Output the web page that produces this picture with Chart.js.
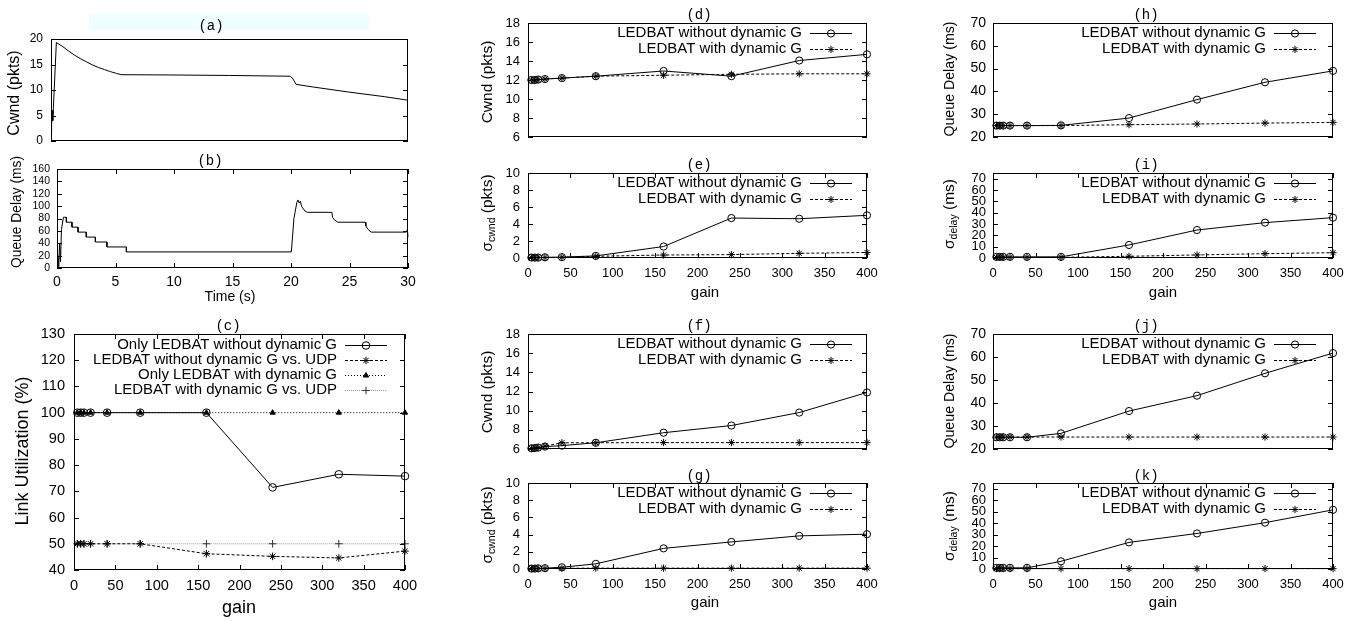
<!DOCTYPE html>
<html>
<head>
<meta charset="utf-8">
<script src="https://cdn.jsdelivr.net/npm/chart.js@4"></script>
<style>
html, body { margin: 0; padding: 0; background: #fff; }
#wrap { position: relative; width: 1359px; height: 621px; overflow: hidden; background: #fff; }
#wrap canvas { position: absolute; left: 0; top: 0; }
#band { position: absolute; left: 89px; top: 14px; width: 280px; height: 16px; background: #effefe; }
</style>
</head>
<body>
<div id="wrap"><div id="band"></div></div>
<script>
// ---- data ----
const gains = [4, 8, 12, 20, 40, 80, 160, 240, 320, 400];

// (a) cwnd over time
const aTime = [0, 0.05, 0.1, 0.15, 0.2, 0.45, 1, 1.5, 2, 2.5, 3, 3.5, 4, 4.5, 5, 5.5, 5.9, 10, 15, 20.1, 20.3, 20.6, 22, 25, 28, 30];
const aCwnd = [1.5, 3, 6, 4, 6.5, 19.3, 18.5, 17.6, 16.8, 16.1, 15.5, 14.9, 14.4, 14.0, 13.6, 13.25, 13.0, 12.95, 12.85, 12.7, 12.3, 11.1, 10.6, 9.6, 8.7, 8.0];

// (b) queue delay over time
const bTime = [0, 0.08, 0.15, 0.22, 0.3, 0.38, 0.55, 0.62, 0.8, 0.8, 1.28, 1.28, 1.8, 1.8, 2.5, 2.5, 3.28, 3.28, 4.27, 4.27, 5.93, 5.93, 20.03, 20.25, 20.5, 20.6, 20.7, 20.8, 20.9, 21.0, 21.2, 21.4, 23.5, 23.55, 23.7, 24.0, 26.35, 26.4, 26.6, 26.85, 29.85, 29.95, 30];
const bDelay = [0, 20, 2, 40, 10, 62, 82, 82, 82, 74, 74, 66, 66, 58, 58, 50, 50, 42, 42, 34, 34, 26, 26, 80, 106, 110, 105, 108, 100, 97, 92, 90, 90, 82, 78, 74, 74, 68, 62, 58, 58, 62, 50];

// (c) link utilization
const utilNoDyn = [100, 100, 100, 100, 100, 100, 100, 71.5, 76.5, 75.8];
const utilNoDynUdp = [50, 50, 50, 50, 50, 50, 46.2, 45.2, 44.6, 47.2];
const utilDyn = [100, 100, 100, 100, 100, 100, 100, 100, 100, 100];
const utilDynUdp = [50, 50, 50, 50, 50, 50, 50, 50, 50, 50];

// (d)-(k)
const cwndNoDyn1 = [12.0, 12.0, 12.05, 12.1, 12.2, 12.4, 12.95, 12.4, 14.05, 14.7];
const cwndDyn1 = [12.0, 12.0, 12.05, 12.1, 12.2, 12.4, 12.5, 12.6, 12.65, 12.65];
const sdCwndNoDyn1 = [0.05, 0.05, 0.05, 0.08, 0.1, 0.25, 1.35, 4.7, 4.62, 5.02];
const sdCwndDyn1 = [0.05, 0.05, 0.05, 0.06, 0.08, 0.2, 0.35, 0.4, 0.55, 0.65];
const cwndNoDyn2 = [6.07, 6.1, 6.15, 6.25, 6.35, 6.65, 7.7, 8.45, 9.8, 11.9];
const cwndDyn2 = [6.07, 6.1, 6.15, 6.3, 6.65, 6.65, 6.67, 6.67, 6.67, 6.67];
const sdCwndNoDyn2 = [0.05, 0.05, 0.08, 0.1, 0.2, 0.6, 2.4, 3.15, 3.85, 4.05];
const sdCwndDyn2 = [0.05, 0.05, 0.05, 0.05, 0.08, 0.1, 0.1, 0.1, 0.1, 0.1];
const delayNoDyn1 = [25, 25, 25, 25, 25, 25.1, 28.3, 36.4, 44, 49];
const delayDyn1 = [25, 25, 25, 25, 25, 25, 25.4, 25.7, 26.1, 26.4];
const sdDelayNoDyn1 = [1, 1, 1, 1, 1, 1, 11.5, 24.7, 31.2, 35.6];
const sdDelayDyn1 = [0.5, 0.5, 0.5, 0.5, 0.5, 0.6, 1.5, 2.7, 3.8, 4.7];
const delayNoDyn2 = [25.1, 25.1, 25.1, 25.1, 25.1, 26.8, 36.5, 43.2, 52.9, 61.7];
const delayDyn2 = [25.2, 25.2, 25.2, 25.2, 25.2, 25.2, 25.2, 25.2, 25.2, 25.2];
const sdDelayNoDyn2 = [1, 1, 1, 1, 1, 6.7, 23.2, 31, 40.4, 51.6];
const sdDelayDyn2 = [0.3, 0.3, 0.3, 0.3, 0.3, 0.3, 0.3, 0.3, 0.3, 0.3];

const labNoDyn = 'LEDBAT without dynamic G';
const labDyn = 'LEDBAT with dynamic G';

// ---- helpers ----
const W = 1359, H = 621;
const YW = 40, XH = 26; //room kept for tick labels
const SANS = '"Liberation Sans", Arial, sans-serif';
const MONO = '"Liberation Mono", "Courier New", monospace';
const wrap = document.getElementById('wrap');

function zip(xs, ys) { return xs.map((x, i) => ({ x: x, y: ys[i] })); }

const solidCircle = { color: '#000', dash: [], point: 'circle', r: 3.6, fill: 'rgba(0,0,0,0)' };
const dashStar = { color: '#000', dash: [3, 2], point: 'star', r: 3.6, fill: 'rgba(0,0,0,0)' };

function pair(noDyn, dyn) { //two-series panels
    return [
        Object.assign({ label: labNoDyn, data: zip(gains, noDyn) }, solidCircle),
        Object.assign({ label: labDyn, data: zip(gains, dyn) }, dashStar)
    ];
}

function fixFit(s) { //fixed scale sizes so the plot box comes from padding
    if (s.isHorizontal()) s.height = XH; else s.width = YW;
    s.paddingLeft = 0; s.paddingRight = 0; s.paddingTop = 0; s.paddingBottom = 0;
}

function decor(p) { //gnuplot style frame, inner ticks, titles, labels, key
    return {
        id: 'decor',
        afterDatasetsDraw(chart) {
            const ctx = chart.ctx, a = chart.chartArea, sx = chart.scales.x, sy = chart.scales.y;
            ctx.save();
            ctx.strokeStyle = '#000'; ctx.lineWidth = 1; ctx.setLineDash([]);
            ctx.beginPath();
            if (p.x.marks) sx.ticks.forEach(t => {
                const px = Math.round(sx.getPixelForValue(t.value)) + 0.5;
                ctx.moveTo(px, a.bottom); ctx.lineTo(px, a.bottom - 5);
                ctx.moveTo(px, a.top); ctx.lineTo(px, a.top + 5);
            });
            sy.ticks.forEach(t => {
                const py = Math.round(sy.getPixelForValue(t.value)) + 0.5;
                ctx.moveTo(a.left, py); ctx.lineTo(a.left + 5, py);
                ctx.moveTo(a.right, py); ctx.lineTo(a.right - 5, py);
            });
            ctx.stroke();
            ctx.strokeRect(a.left + 0.5, a.top + 0.5, a.width - 1, a.height - 1);

            ctx.fillStyle = '#000';
            // panel title
            ctx.font = '14px ' + MONO; ctx.textAlign = 'center'; ctx.textBaseline = 'middle';
            ctx.fillText(p.title.text, p.title.x, p.title.y);
            // x label
            if (p.xlabel) {
                ctx.font = p.xlabel.size + 'px ' + SANS;
                ctx.fillText(p.xlabel.text, p.xlabel.x, p.xlabel.y);
            }
            // y label (parts allow a subscript)
            const yl = p.ylabel;
            ctx.save();
            ctx.translate(yl.x, yl.y); ctx.rotate(-Math.PI / 2);
            ctx.textAlign = 'left'; ctx.textBaseline = 'middle';
            let total = 0;
            yl.parts.forEach(pt => { ctx.font = pt[1] + 'px ' + SANS; total += ctx.measureText(pt[0]).width; });
            let cx = -total / 2;
            yl.parts.forEach(pt => {
                ctx.font = pt[1] + 'px ' + SANS;
                ctx.fillText(pt[0], cx, pt[2] || 0);
                cx += ctx.measureText(pt[0]).width;
            });
            ctx.restore();
            // key
            if (p.legend) {
                const L = p.legend;
                p.series.forEach((s, i) => {
                    const y = L.y + i * L.dy;
                    ctx.font = L.size + 'px ' + SANS; ctx.textAlign = 'right'; ctx.textBaseline = 'middle';
                    ctx.fillStyle = '#000';
                    ctx.fillText(s.label, L.x, y);
                    ctx.strokeStyle = s.color; ctx.setLineDash(s.dash);
                    ctx.beginPath(); ctx.moveTo(L.x + 8, Math.round(y) + 0.5); ctx.lineTo(L.x + 8 + L.len, Math.round(y) + 0.5); ctx.stroke();
                    ctx.setLineDash([]);
                    ctx.fillStyle = s.fill; ctx.strokeStyle = s.pcolor || s.color;
                    Chart.helpers.drawPoint(ctx, { pointStyle: s.point, radius: s.r, rotation: 0, borderWidth: 1 }, L.x + 8 + L.len / 2, Math.round(y) + 0.5);
                });
            }
            ctx.restore();
        }
    };
}

function makePanel(p) {
    const cv = document.createElement('canvas');
    cv.width = W; cv.height = H;
    wrap.appendChild(cv);
    return new Chart(cv, {
        type: 'scatter',
        data: {
            datasets: p.series.map(s => ({
                label: s.label,
                data: s.data,
                showLine: true,
                tension: 0,
                borderColor: s.color,
                borderWidth: 1,
                borderDash: s.dash,
                pointStyle: s.point || 'circle',
                pointRadius: s.point ? s.r : 0,
                pointBorderColor: s.pcolor || s.color,
                pointBackgroundColor: s.fill,
                pointBorderWidth: 1,
                clip: false
            }))
        },
        options: {
            responsive: false,
            animation: false,
            devicePixelRatio: 1,
            layout: { padding: { left: p.box[0] - YW, top: p.box[1], right: W - p.box[2], bottom: H - p.box[3] - XH } },
            plugins: { legend: { display: false }, tooltip: { enabled: false } },
            scales: {
                x: {
                    type: 'linear', min: p.x.min, max: p.x.max,
                    grid: { display: false, drawTicks: false }, border: { display: false },
                    ticks: { stepSize: p.x.step, display: !!p.x.font, autoSkip: false, maxRotation: 0, color: '#000',
                             padding: p.x.pad || 0, font: { family: SANS, size: p.x.font || 12 } },
                    afterFit: fixFit
                },
                y: {
                    type: 'linear', min: p.y.min, max: p.y.max,
                    grid: { display: false, drawTicks: false }, border: { display: false },
                    ticks: { stepSize: p.y.step, autoSkip: false, includeBounds: false, color: '#000',
                             padding: p.y.pad, font: { family: SANS, size: p.y.font } },
                    afterFit: fixFit
                }
            }
        },
        plugins: [decor(p)]
    });
}

const gainX = { min: 0, max: 400, step: 50, marks: true, font: 13, pad: 8 };
const gainXHidden = { min: 0, max: 400, step: 50, marks: false };
const cwndY = { min: 6, max: 18, step: 2, font: 13, pad: 8 };
const sdCwndY = { min: 0, max: 10, step: 2, font: 13, pad: 8 };
const delayY = { min: 20, max: 70, step: 10, font: 14, pad: 7 };
const sdDelayY = { min: 0, max: 75, step: 10, font: 13, pad: 7 };
const sigCwnd = [['\u03c3', 15.5], ['cwnd', 10.5, 4], [' (pkts)', 15.5]];
const sigDelay = [['\u03c3', 15.5], ['delay', 10.5, 4], [' (ms)', 15.5]];

const panels = [
    { box: [51, 39, 408, 141], x: { min: 0, max: 30, step: 5, marks: false }, y: { min: 0, max: 20, step: 5, font: 12, pad: 8 },
      title: { text: '(a)', x: 211, y: 26 }, ylabel: { x: 15, y: 93, parts: [['Cwnd (pkts)', 16]] },
      series: [{ label: 'cwnd', data: zip(aTime, aCwnd), color: '#000', dash: [], fill: 'rgba(0,0,0,0)' }] },
    { box: [57, 169, 408, 268], x: { min: 0, max: 30, step: 5, marks: true, font: 14, pad: 6 }, y: { min: 0, max: 160, step: 20, font: 10.5, pad: 7 },
      title: { text: '(b)', x: 210, y: 161 }, ylabel: { x: 17, y: 212, parts: [['Queue Delay (ms)', 13.8]] },
      xlabel: { text: 'Time (s)', x: 230, y: 297, size: 14 },
      series: [{ label: 'delay', data: zip(bTime, bDelay), color: '#000', dash: [], fill: 'rgba(0,0,0,0)' }] },
    { box: [74, 334, 405, 570], x: { min: 0, max: 400, step: 50, marks: true, font: 14.6, pad: 7 }, y: { min: 40, max: 130, step: 10, font: 14.6, pad: 9 },
      title: { text: '(c)', x: 228, y: 326 }, ylabel: { x: 23, y: 451, parts: [['Link Utilization (%)', 18]] },
      xlabel: { text: 'gain', x: 239, y: 608, size: 18 },
      legend: { x: 337, y: 345, dy: 15, len: 42, size: 15 },
      series: [
          Object.assign({ label: 'Only LEDBAT without dynamic G', data: zip(gains, utilNoDyn) }, solidCircle, { r: 3.8 }),
          Object.assign({ label: 'LEDBAT without dynamic G vs. UDP', data: zip(gains, utilNoDynUdp) }, dashStar, { r: 3.8 }),
          { label: 'Only LEDBAT with dynamic G', data: zip(gains, utilDyn), color: '#000', dash: [1, 2], point: 'triangle', r: 3, fill: '#000' },
          { label: 'LEDBAT with dynamic G vs. UDP', data: zip(gains, utilDynUdp), color: '#999', pcolor: '#333', dash: [1, 1], point: 'cross', r: 3.8, fill: 'rgba(0,0,0,0)' }
      ] },
    { box: [528, 23, 867, 137], x: gainXHidden, y: cwndY,
      title: { text: '(d)', x: 699, y: 15 }, ylabel: { x: 488, y: 82, parts: [['Cwnd (pkts)', 15.5]] },
      legend: { x: 802, y: 33, dy: 15.5, len: 42, size: 15 }, series: pair(cwndNoDyn1, cwndDyn1) },
    { box: [528, 173, 867, 258], x: gainX, y: sdCwndY,
      title: { text: '(e)', x: 699, y: 165 }, ylabel: { x: 488, y: 213, parts: sigCwnd },
      xlabel: { text: 'gain', x: 705, y: 293, size: 15 },
      legend: { x: 802, y: 183, dy: 15.5, len: 42, size: 15 }, series: pair(sdCwndNoDyn1, sdCwndDyn1) },
    { box: [528, 334, 867, 449], x: gainXHidden, y: cwndY,
      title: { text: '(f)', x: 699, y: 326 }, ylabel: { x: 488, y: 392, parts: [['Cwnd (pkts)', 15.5]] },
      legend: { x: 802, y: 344, dy: 15.5, len: 42, size: 15 }, series: pair(cwndNoDyn2, cwndDyn2) },
    { box: [528, 483, 867, 569], x: gainX, y: sdCwndY,
      title: { text: '(g)', x: 699, y: 476 }, ylabel: { x: 488, y: 525, parts: sigCwnd },
      xlabel: { text: 'gain', x: 705, y: 603, size: 15 },
      legend: { x: 802, y: 493, dy: 15.5, len: 42, size: 15 }, series: pair(sdCwndNoDyn2, sdCwndDyn2) },
    { box: [993, 23, 1333, 137], x: gainXHidden, y: delayY,
      title: { text: '(h)', x: 1146, y: 15 }, ylabel: { x: 950, y: 79, parts: [['Queue Delay (ms)', 14.2]] },
      legend: { x: 1266, y: 33, dy: 15.5, len: 42, size: 15 }, series: pair(delayNoDyn1, delayDyn1) },
    { box: [993, 173, 1333, 258], x: gainX, y: sdDelayY,
      title: { text: '(i)', x: 1146, y: 165 }, ylabel: { x: 950, y: 214, parts: sigDelay },
      xlabel: { text: 'gain', x: 1163, y: 293, size: 15 },
      legend: { x: 1266, y: 183, dy: 15.5, len: 42, size: 15 }, series: pair(sdDelayNoDyn1, sdDelayDyn1) },
    { box: [993, 334, 1333, 449], x: gainXHidden, y: delayY,
      title: { text: '(j)', x: 1146, y: 326 }, ylabel: { x: 950, y: 391, parts: [['Queue Delay (ms)', 14.2]] },
      legend: { x: 1266, y: 344, dy: 15.5, len: 42, size: 15 }, series: pair(delayNoDyn2, delayDyn2) },
    { box: [993, 483, 1333, 569], x: gainX, y: sdDelayY,
      title: { text: '(k)', x: 1146, y: 476 }, ylabel: { x: 950, y: 526, parts: sigDelay },
      xlabel: { text: 'gain', x: 1163, y: 603, size: 15 },
      legend: { x: 1266, y: 493, dy: 15.5, len: 42, size: 15 }, series: pair(sdDelayNoDyn2, sdDelayDyn2) }
];

panels.forEach(makePanel);
</script>
</body>
</html>
